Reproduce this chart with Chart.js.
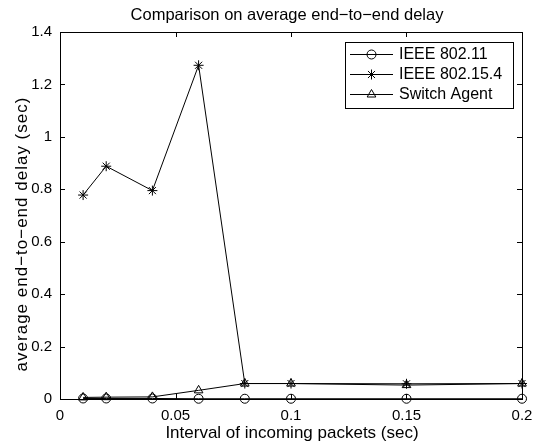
<!DOCTYPE html>
<html>
<head>
<meta charset="utf-8">
<script src="https://cdn.jsdelivr.net/npm/chart.js@4"></script>
<style>
  html, body { margin: 0; padding: 0; background: #fff; }
  #wrap { width: 535px; height: 446px; }
</style>
</head>
<body>
<div id="wrap"><canvas id="delayChart" width="535" height="446"></canvas></div>
<script>
// Interval of incoming packets (sec)
const intervals = [0.01, 0.02, 0.04, 0.06, 0.08, 0.1, 0.15, 0.2];
// average end-to-end delay (sec)
const ieee80211 = [0.002, 0.002, 0.002, 0.001, 0.001, 0.001, 0.001, 0.001];
const ieee802154 = [0.778, 0.888, 0.795, 1.273, 0.059, 0.059, 0.058, 0.059];
const switchAgent = [0.006, 0.007, 0.008, 0.033, 0.059, 0.059, 0.053, 0.059];
const seriesNames = ['IEEE 802.11', 'IEEE 802.15.4', 'Switch Agent'];
const xTicks = [0, 0.05, 0.1, 0.15, 0.2];
const yTicks = [0, 0.2, 0.4, 0.6, 0.8, 1, 1.2, 1.4];

const FONT = '"Liberation Sans", Arial, Helvetica, sans-serif';
Chart.defaults.font.family = FONT;
Chart.defaults.color = '#000';

function toPoints(ys) {
  return intervals.map((x, i) => ({ x: x, y: ys[i] }));
}

function series(label, ys, style, r) {
  return {
    label: label,
    data: toPoints(ys),
    borderColor: '#000',
    borderWidth: 1,
    pointStyle: style,
    pointRadius: r,
    pointHoverRadius: r,
    pointBorderColor: '#000',
    pointBorderWidth: 1,
    pointBackgroundColor: 'rgba(0,0,0,0)',
    tension: 0,
    fill: false,
    clip: false
  };
}

// frame, inward ticks, title, axis labels and legend in matlab style
const matlabDecor = {
  id: 'matlabDecor',
  afterDraw(chart) {
    const ctx = chart.ctx;
    const a = chart.chartArea;
    const xs = chart.scales.x, ys = chart.scales.y;
    const tl = 5;
    ctx.save();
    ctx.strokeStyle = '#000';
    ctx.lineWidth = 1;
    ctx.strokeRect(Math.round(a.left) + 0.5, Math.round(a.top) + 0.5,
      Math.round(a.right - a.left), Math.round(a.bottom - a.top));
    ctx.beginPath();
    xTicks.forEach(v => {
      const px = Math.round(xs.getPixelForValue(v)) + 0.5;
      ctx.moveTo(px, a.bottom); ctx.lineTo(px, a.bottom - tl);
      ctx.moveTo(px, a.top); ctx.lineTo(px, a.top + tl);
    });
    yTicks.forEach(v => {
      const py = Math.round(ys.getPixelForValue(v)) + 0.5;
      ctx.moveTo(a.left, py); ctx.lineTo(a.left + tl, py);
      ctx.moveTo(a.right, py); ctx.lineTo(a.right - tl, py);
    });
    ctx.stroke();

    ctx.fillStyle = '#000';
    ctx.textAlign = 'center';
    ctx.textBaseline = 'middle';
    ctx.font = '16.5px ' + FONT;
    ctx.fillText('Comparison on average end\u2212to\u2212end delay', 287, 15);
    ctx.font = '17px ' + FONT;
    ctx.fillText('Interval of incoming packets (sec)', 292, 433);
    ctx.save();
    ctx.translate(22, 234);
    ctx.rotate(-Math.PI / 2);
    ctx.letterSpacing = '1px';
    ctx.fillText('average end\u2212to\u2212end delay (sec)', 0, 0);
    ctx.restore();

    // legend box
    ctx.fillStyle = '#fff';
    ctx.fillRect(345, 43, 168, 66);
    ctx.strokeRect(345.5, 42.5, 168, 66);
    ctx.font = '16px ' + FONT;
    ctx.textAlign = 'left';
    chart.data.datasets.forEach((ds, i) => {
      const y = 54.5 + i * 20;
      ctx.beginPath();
      ctx.moveTo(350, y); ctx.lineTo(393, y);
      ctx.stroke();
      ctx.fillStyle = 'rgba(0,0,0,0)';
      Chart.helpers.drawPoint(ctx, {
        pointStyle: ds.pointStyle, radius: ds.pointRadius,
        borderWidth: 1, rotation: 0
      }, 371.5, y);
      ctx.fillStyle = '#000';
      ctx.fillText(ds.label, 399, y + 0.5);
    });
    ctx.restore();
  }
};

new Chart(document.getElementById('delayChart').getContext('2d'), {
  type: 'line',
  data: {
    datasets: [
      series(seriesNames[0], ieee80211, 'circle', 4.5),
      series(seriesNames[1], ieee802154, 'star', 5),
      series(seriesNames[2], switchAgent, 'triangle', 5)
    ]
  },
  options: {
    responsive: false,
    animation: false,
    layout: { padding: { left: 0, right: 13, top: 32, bottom: 0 } },
    plugins: {
      legend: { display: false },
      title: { display: false },
      tooltip: { enabled: false }
    },
    scales: {
      x: {
        type: 'linear',
        min: 0,
        max: 0.2,
        grid: { display: false, drawTicks: false },
        border: { display: false },
        ticks: {
          stepSize: 0.05,
          padding: 8,
          maxRotation: 0,
          font: { size: 15 },
          color: '#000',
          callback: v => String(+v.toFixed(3))
        },
        afterFit: s => { s.height = 47; s.paddingLeft = 0; s.paddingRight = 0; }
      },
      y: {
        type: 'linear',
        min: 0,
        max: 1.4,
        grid: { display: false, drawTicks: false },
        border: { display: false },
        ticks: {
          stepSize: 0.2,
          padding: 8,
          font: { size: 15 },
          color: '#000',
          callback: v => String(+v.toFixed(2))
        },
        afterFit: s => { s.width = 60; s.paddingTop = 0; s.paddingBottom = 0; }
      }
    }
  },
  plugins: [matlabDecor]
});
</script>
</body>
</html>
